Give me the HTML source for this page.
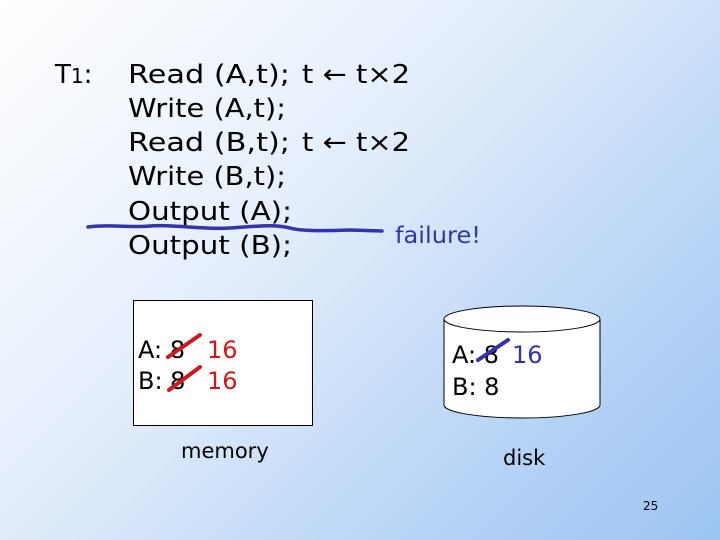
<!DOCTYPE html>
<html><head><meta charset="utf-8"><style>
html,body{margin:0;padding:0}
body{width:720px;height:540px;overflow:hidden;background:linear-gradient(135deg,#ffffff 0%,#e4eefb 40%,#b7d4f6 75%,#9cc4f2 100%)}
svg{display:block}
text{font-family:"DejaVu Sans","Liberation Sans",sans-serif}
</style></head><body>
<svg width="720" height="540" viewBox="0 0 720 540">
<g font-size="26" fill="#000">
<text x="55" y="83">T<tspan font-size="20">1</tspan>:</text>
<text x="128" y="83" textLength="162" lengthAdjust="spacingAndGlyphs">Read (A,t);</text>
<text x="302" y="83" textLength="108" lengthAdjust="spacingAndGlyphs">t ← t×2</text>
<text x="128" y="117" textLength="158" lengthAdjust="spacingAndGlyphs">Write (A,t);</text>
<text x="128" y="151" textLength="162" lengthAdjust="spacingAndGlyphs">Read (B,t);</text>
<text x="302" y="151" textLength="108" lengthAdjust="spacingAndGlyphs">t ← t×2</text>
<text x="128" y="185" textLength="158" lengthAdjust="spacingAndGlyphs">Write (B,t);</text>
<text x="128" y="220" textLength="164" lengthAdjust="spacingAndGlyphs">Output (A);</text>
<text x="128" y="254" textLength="164" lengthAdjust="spacingAndGlyphs">Output (B);</text>
</g>
<path d="M88,227 C110,224 130,228 150,226 C175,224 200,230 230,228 C260,226 275,224 290,228 C300,231 320,231 350,230 L382,231" fill="none" stroke="#3333aa" stroke-width="3.5" stroke-linecap="round"/>
<text x="395" y="243" font-size="23" fill="#3333aa" textLength="86" lengthAdjust="spacingAndGlyphs">failure!</text>

<rect x="133.5" y="300.5" width="179" height="125" fill="#fff" stroke="#000" stroke-width="1"/>
<g font-size="24">
<text x="138" y="358" fill="#000">A: 8</text>
<text x="207" y="358" fill="#cc1a1a">16</text>
<text x="138" y="389" fill="#000">B: 8</text>
<text x="207" y="389" fill="#cc1a1a">16</text>
</g>
<path d="M168,357 L200,335" stroke="#cc1a1a" stroke-width="4" stroke-linecap="round"/>
<path d="M169,390 L200,367" stroke="#cc1a1a" stroke-width="4" stroke-linecap="round"/>
<text x="181" y="458" font-size="21" fill="#000">memory</text>

<path d="M444,319 L444,405 A78,13 0 0 0 600,405 L600,319" fill="#fff" stroke="#000" stroke-width="1"/>
<ellipse cx="522" cy="319" rx="78" ry="13" fill="#fff" stroke="#000" stroke-width="1"/>
<g font-size="24">
<text x="452" y="363" fill="#000">A: 8</text>
<text x="512" y="363" fill="#3333aa">16</text>
<text x="452" y="395" fill="#000">B: 8</text>
</g>
<path d="M478,360 L508,340" stroke="#3333aa" stroke-width="4" stroke-linecap="round"/>
<text x="503" y="465" font-size="21" fill="#000">disk</text>
<text x="643" y="510" font-size="12" fill="#000">25</text>
</svg>
</body></html>
